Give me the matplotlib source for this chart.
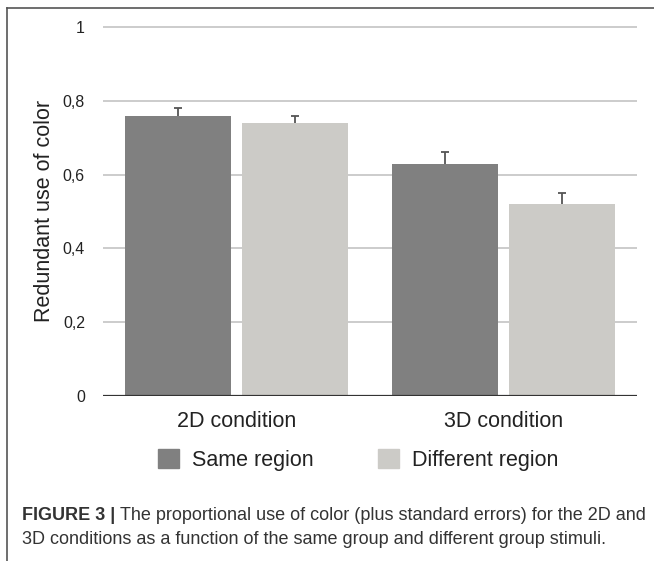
import numpy as np
import matplotlib
matplotlib.use("Agg")
import matplotlib.pyplot as plt
from matplotlib.lines import Line2D
from matplotlib.patches import Patch

plt.rcParams["font.family"] = ["Liberation Sans", "DejaVu Sans"]

conditions = ["2D condition", "3D condition"]
series = ["Same region", "Different region"]
same_region = [0.76, 0.63]
different_region = [0.74, 0.52]
same_se = [0.02, 0.03]
different_se = [0.02, 0.03]
yticks = [0, 0.2, 0.4, 0.6, 0.8, 1.0]
ytick_labels = ["0", "0,2", "0,4", "0,6", "0,8", "1"]

colors = ["#808080", "#cccbc7"]
W, H = 654, 561
fig = plt.figure(figsize=(W / 100, H / 100), dpi=100)

# axes placed in pixel terms: x 103..637, y(0)=396, 1 unit = 369 px
ymax = 1.05
left, right = 103 / W, 637 / W
bottom = 1 - 396 / H
height = 369 * ymax / H
ax = fig.add_axes([left, bottom, right - left, height])

x = np.arange(len(conditions))
off, bw, capw = 0.219, 0.40, 0.016
for v in yticks[1:]:
    ax.axhline(v, color="#c8c8c8", lw=1.3, zorder=0)
for xs, vals, se, col in [(x - off, same_region, same_se, colors[0]),
                          (x + off, different_region, different_se, colors[1])]:
    vals, se = np.asarray(vals), np.asarray(se)
    ax.bar(xs, vals, bw, color=col, zorder=2)
    # upper-only error bars
    ax.vlines(xs, vals, vals + se, color="#555555", lw=1.3, zorder=1.5)
    ax.hlines(vals + se, xs - capw, xs + capw, color="#555555", lw=1.3, zorder=1.5)
ax.axhline(0, color="#333333", lw=1.6, zorder=4)

ax.set_xlim(-0.5, 1.5)
ax.set_ylim(0, ymax)
ax.set_xticks(x)
ax.set_xticklabels(conditions, fontsize=15.5, color="#222222")
ax.set_yticks(yticks)
ax.set_yticklabels(ytick_labels, fontsize=11.5, color="#222222")
ax.tick_params(axis="x", length=0, pad=11)
ax.tick_params(axis="y", length=0, pad=13)
for s in ax.spines.values():
    s.set_visible(False)

fig.text(45 / W, 1 - 210.5 / H, "Redundant use of color", rotation=90,
         ha="center", va="center", fontsize=15.5, color="#222222")

handles = [Patch(color=c) for c in colors]
fig.legend(handles, series, loc="center", bbox_to_anchor=(358 / W, 1 - 460 / H),
           ncol=2, frameon=False, fontsize=15.5, handlelength=0.98, handleheight=0.98,
           handletextpad=0.6, columnspacing=3.0, labelcolor="#222222")

# frame around figure (top and left edges only)
fig.add_artist(Line2D([7 / W, 1], [1 - 8 / H, 1 - 8 / H], color="#555555", lw=1.2))
fig.add_artist(Line2D([7 / W, 7 / W], [0, 1 - 8 / H], color="#555555", lw=1.2))

# caption
cap_col = "#333333"
cap_fs = 13
t1 = fig.text(22 / W, 1 - 520 / H, "FIGURE 3 |", fontsize=cap_fs, fontweight="bold",
              color=cap_col, va="baseline")
fig.canvas.draw()
bb = t1.get_window_extent()
fig.text((bb.x1 + 5) / W, 1 - 520 / H,
         "The proportional use of color (plus standard errors) for the 2D and",
         fontsize=cap_fs, color=cap_col, va="baseline")
fig.text(22 / W, 1 - 544 / H,
         "3D conditions as a function of the same group and different group stimuli.",
         fontsize=cap_fs, color=cap_col, va="baseline")

fig.savefig("out.png", dpi=100)
